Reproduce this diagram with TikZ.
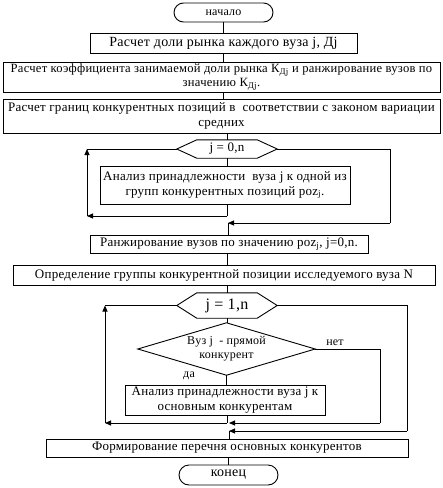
\documentclass[tikz,border=0pt]{standalone}
\usepackage{fontspec}
\setmainfont{Liberation Serif}[LetterSpace=2.0]
\usetikzlibrary{arrows.meta}
\begin{document}
\begin{tikzpicture}[x=1pt,y=-1pt,
  txt/.style={inner sep=0pt, align=center, font=\fontsize{13}{15}\selectfont},
  box/.style={txt, draw, line width=0.9pt},
  term/.style={box, rounded corners=9.5pt},
  ln/.style={line width=0.9pt},
  arr/.style={ln, -{Triangle[length=6pt,width=5pt]}}
]
\useasboundingbox[fill=white] (0,0) rectangle (443,488);

% nodes
\node[term, minimum width=99pt, minimum height=19pt, font=\fontsize{12}{14}\selectfont] (start) at (223.5,12.5) {начало};
\node[box, minimum width=267pt, minimum height=20pt, font=\fontsize{14}{16}\selectfont] (b1) at (223.5,43) {Расчет доли рынка каждого вуза j, Дj};
\node[box, minimum width=437pt, minimum height=30pt, font=\fontsize{12.6}{14.5}\selectfont] (b2) at (221.5,77) {Расчет коэффициента занимаемой доли рынка К\textsubscript{Дj} и ранжирование вузов по\\значению К\textsubscript{Дj}.};
\node[box, minimum width=437pt, minimum height=34pt] (b3) at (221.5,116) {Расчет границ конкурентных позиций в~ соответствии с законом вариации\\средних};
\node[txt, minimum width=100pt, minimum height=18pt] (h1) at (227,149) {j = 0,n};
\node[box, minimum width=250pt, minimum height=38pt] (a1) at (225,185) {Анализ принадлежности~ вуза j к одной из\\групп конкурентных позиций poz\textsubscript{j}.};
\node[box, minimum width=278pt, minimum height=18pt] (b4) at (229,244) {Ранжирование вузов по значению poz\textsubscript{j}, j=0,n.};
\node[box, minimum width=422pt, minimum height=20pt] (b5) at (224,275) {Определение группы конкурентной позиции исследуемого вуза N};
\node[txt, minimum width=100pt, minimum height=25pt, font=\fontsize{16}{18}\selectfont] (h2) at (227,305.5) {j = 1,n};
\node[txt, minimum width=177pt, minimum height=52pt, font=\fontsize{12}{14}\selectfont] (d) at (226.5,349) {Вуз j~ - прямой\\конкурент};
\node[box, minimum width=200pt, minimum height=30pt] (a2) at (225,400) {Анализ принадлежности вуза j к\\основным конкурентам};
\node[box, minimum width=362pt, minimum height=18pt] (b6) at (227,448) {Формирование перечня основных конкурентов};
\node[term, minimum width=99pt, minimum height=20pt, rounded corners=10pt, font=\fontsize{14}{16}\selectfont] (end) at (228.5,475) {конец};
\node[txt, font=\fontsize{12}{14}\selectfont] (net) at (335,343) {нет};
\node[txt, font=\fontsize{12}{14}\selectfont] (da) at (189,376) {да};

% hexagons and diamond
\draw[ln] (h1.west) -- ([xshift=20pt]h1.north west) -- ([xshift=-20pt]h1.north east) -- (h1.east) -- ([xshift=-20pt]h1.south east) -- ([xshift=20pt]h1.south west) -- cycle;
\draw[ln] (h2.west) -- ([xshift=20pt]h2.north west) -- ([xshift=-20pt]h2.north east) -- (h2.east) -- ([xshift=-20pt]h2.south east) -- ([xshift=20pt]h2.south west) -- cycle;
\draw[ln] (d.west) -- (d.north) -- (d.east) -- (d.south) -- cycle;

% coordinates
\coordinate (j1) at (227,216);
\coordinate (c1) at (87,216);
\coordinate (c2) at (87,149);
\coordinate (r1) at (390,149);
\coordinate (r2) at (390,223);
\coordinate (m1) at (228,223);
\coordinate (j2) at (227,423);
\coordinate (c3) at (105,423);
\coordinate (c4) at (105,305.5);
\coordinate (n1) at (380,349);
\coordinate (n2) at (380,423);
\coordinate (m2) at (229,423);
\coordinate (o1) at (407,305.5);
\coordinate (o2) at (407,431);
\coordinate (m3) at (229,431);

% straight connectors
\draw[ln] (start.south) -- (start.south |- b1.north);
\draw[ln] (b1.south) -- (b1.south |- b2.north);
\draw[ln] (b2.south -| b1.south) -- (b3.north -| b1.south);
\draw[ln] (b3.south -| h1.north) -- (h1.north);
\draw[ln] (h1.south) -- (h1.south |- a1.north);

% loop 1
\draw[ln] (a1.south -| j1) -- (j1);
\draw[arr] (j1) -- (c1);
\draw[arr] (c1) -- (c2);
\draw[ln] (c2) -- (h1.west);
\draw[ln] (h1.east) -- (r1) -- (r2);
\draw[arr] (r2) -- (m1);
\draw[ln] (m1) -- (m1 |- b4.north);

\draw[ln] (b4.south -| h1.south) -- (b5.north -| h1.south);
\draw[ln] (b5.south -| h2.north) -- (h2.north);
\draw[ln] (h2.south) -- (h2.south |- d.north);
\draw[ln] (d.south) -- (d.south |- a2.north);

% loop 2
\draw[ln] (a2.south -| j2) -- (j2);
\draw[arr] (j2) -- (c3);
\draw[arr] (c3) -- (c4);
\draw[ln] (c4) -- (h2.west);
\draw[ln] (d.east) -- (n1) -- (n2);
\draw[arr] (n2) -- (m2);
\draw[ln] (h2.east) -- (o1) -- (o2);
\draw[arr] (o2) -- (m3);
\draw[ln] (m3) -- (m3 |- b6.north);
\draw[ln] (b6.south -| end.north) -- (end.north);
\end{tikzpicture}
\end{document}
